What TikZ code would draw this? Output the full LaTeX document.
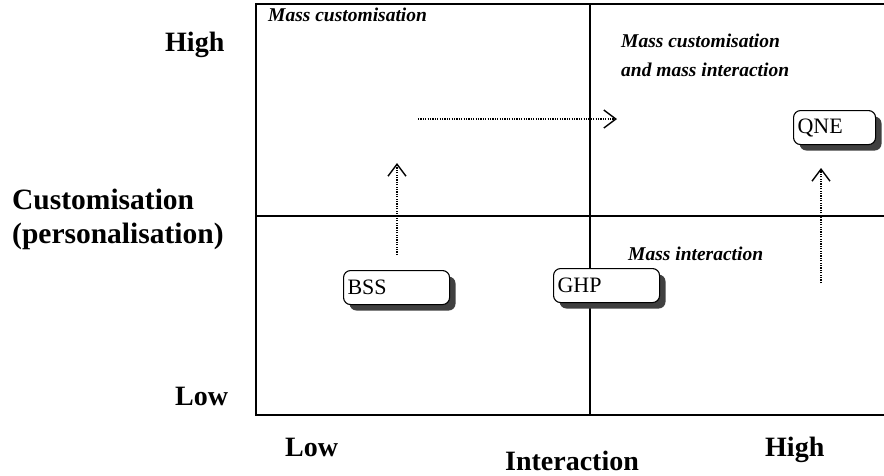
\documentclass[tikz,border=0pt]{standalone}
\usepackage{fontspec}
\setmainfont{Liberation Serif}
\usetikzlibrary{arrows.meta,shadows}

\begin{document}
\begin{tikzpicture}[x=1pt,y=-1pt,
    axis/.style={font=\fontsize{28}{30}\selectfont\bfseries, inner sep=0pt, anchor=base west},
    quad/.style={font=\fontsize{19.5}{29}\selectfont\bfseries\itshape, inner sep=0pt, align=left},
    firm/.style={draw, line width=1.1pt, rounded corners=7pt, fill=white, minimum width=106pt,
      minimum height=34pt, text width=98pt, align=left, inner sep=3pt,
      font=\fontsize{22}{24}\selectfont,
      drop shadow={shadow xshift=6pt, shadow yshift=-6pt, fill=black!75, opacity=1}},
    move/.style={line width=1.1pt, dash pattern=on 1.2pt off 1.2pt,
      -{Straight Barb[length=12pt,width=18pt,line width=1.4pt]}}]
  \useasboundingbox (0,0) rectangle (884,475);
  % frame and quadrants
  \draw[line width=1.2pt] (884,4) -- (256,4) -- (256,415) -- (884,415);
  \draw[line width=1.2pt] (590,4) -- (590,415);
  \draw[line width=1.2pt] (256,216) -- (884,216);
  % axis labels
  \node[axis] (yhigh) at (165,51) {High};
  \node[axis, font=\fontsize{29.5}{30}\selectfont\bfseries] (ylab1) at (12,209) {Customisation};
  \node[axis, font=\fontsize{29.5}{30}\selectfont\bfseries] (ylab2) at (12,243) {(personalisation)};
  \node[axis] (ylow) at (175,405) {Low};
  \node[axis] (xlow) at (285,456) {Low};
  \node[axis, anchor=base] (xlab) at (572,470) {Interaction};
  \node[axis] (xhigh) at (765,456) {High};
  % quadrant labels
  \node[quad, anchor=west] (mc) at (268,15) {Mass customisation};
  \node[quad, anchor=north west] (mcmi) at (621,34) {Mass customisation\\and mass interaction};
  \node[quad, anchor=west] (mi) at (628,254) {Mass interaction};
  % firms
  \node[firm, anchor=north west] (bss) at (343,270) {BSS};
  \node[firm, anchor=north west] (ghp) at (553,268) {GHP};
  \node[firm, anchor=north west, minimum width=82pt, text width=74pt] (qne) at (793,110) {QNE};
  % moves
  \coordinate (bssup) at (397,255);
  \coordinate (bsstop) at (397,163);
  \coordinate (mcleft) at (418,119);
  \coordinate (mcright) at (617,119);
  \coordinate (qnelow) at (821,283);
  \coordinate (qneup) at (821,168);
  \draw[move] (bssup) -- (bsstop);
  \draw[move] (mcleft) -- (mcright);
  \draw[move] (qnelow) -- (qneup);
\end{tikzpicture}
\end{document}
